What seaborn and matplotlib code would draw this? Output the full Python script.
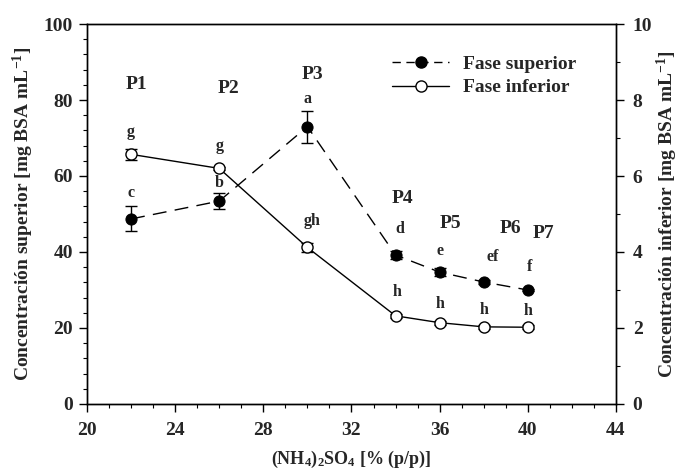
import matplotlib
matplotlib.use("Agg")
import matplotlib.pyplot as plt
import seaborn as sns
import pandas as pd
from matplotlib.ticker import MultipleLocator
from matplotlib.lines import Line2D

# ---- data ----
conc = [22, 26, 30, 34, 36, 38, 40]
sup = [48.7, 53.4, 73.0, 39.2, 34.7, 32.1, 30.0]
sup_err = [3.3, 2.0, 4.2, 1.0, 1.0, 0.5, 0.3]
inf = [6.57, 6.20, 4.12, 2.32, 2.14, 2.03, 2.02]
inf_err = [0.15, 0.05, 0.12, 0.05, 0.05, 0.05, 0.05]

sup_letters = ["c", "b", "a", "d", "e", "ef", "f"]
sup_letter_x = [22, 26, 30, 34.2, 36, 38.4, 40.1]
sup_letter_y = [55.6, 58.2, 80.2, 46.0, 40.3, 38.8, 36.1]

inf_letters = ["g", "g", "gh", "h", "h", "h", "h"]
inf_letter_x = [22, 26, 30.2, 34.05, 36, 38, 40]
inf_letter_y = [71.7, 68.0, 48.2, 29.5, 26.3, 24.7, 24.5]

p_labels = ["P1", "P2", "P3", "P4", "P5", "P6", "P7"]
p_x = [22.25, 26.4, 30.25, 34.3, 36.5, 39.2, 40.7]
p_y = [84.2, 82.9, 86.6, 54.2, 47.6, 46.3, 45.0]

df = pd.DataFrame({"conc": conc, "sup": sup, "inf": inf})

sns.set_style("ticks")
plt.rcParams["font.family"] = ["Liberation Serif", "DejaVu Serif"]
plt.rcParams["font.weight"] = "bold"
plt.rcParams["mathtext.fontset"] = "custom"
plt.rcParams["mathtext.rm"] = "Liberation Serif:bold"
plt.rcParams["mathtext.it"] = "Liberation Serif:bold"
plt.rcParams["mathtext.bf"] = "Liberation Serif:bold"
plt.rcParams["mathtext.default"] = "rm"

fig = plt.figure(figsize=(6.81, 4.70), dpi=100)
ax = fig.add_axes([87 / 681, 66 / 470, 529 / 681, 380 / 470])
ax2 = ax.twinx()

# superior (left axis)
sns.lineplot(data=df, x="conc", y="sup", ax=ax, color="black", lw=1.0,
             marker="o", markersize=8, markerfacecolor="black",
             markeredgecolor="black", zorder=3)
ax.lines[-1].set_dashes([10, 6])
ax.errorbar(conc, sup, yerr=sup_err, fmt="none", ecolor="black",
            elinewidth=1.0, capsize=4, capthick=1.0, zorder=2)

# inferior (right axis)
sns.lineplot(data=df, x="conc", y="inf", ax=ax2, color="black", lw=1.0,
             marker="o", markersize=8, markerfacecolor="white",
             markeredgecolor="black", markeredgewidth=1.0, zorder=3)
ax2.errorbar(conc, inf, yerr=inf_err, fmt="none", ecolor="black",
             elinewidth=1.0, capsize=4, capthick=1.0, zorder=2)

ax.set_xlim(20, 44)
ax.set_ylim(0, 100)
ax2.set_ylim(0, 10)

ax.xaxis.set_major_locator(MultipleLocator(4))
ax.xaxis.set_minor_locator(MultipleLocator(1))
ax.yaxis.set_major_locator(MultipleLocator(20))
ax.yaxis.set_minor_locator(MultipleLocator(4))
ax2.yaxis.set_major_locator(MultipleLocator(2))
ax2.yaxis.set_minor_locator(MultipleLocator(1))

for a in (ax, ax2):
    a.tick_params(which="major", direction="out", length=6, width=1.0,
                  labelsize=14, color="black")
    a.tick_params(which="minor", direction="out", length=3, width=0.8,
                  color="black")
    for s in a.spines.values():
        s.set_linewidth(1.0)
        s.set_color("black")
ax.tick_params(axis="x", pad=7)
ax.tick_params(axis="y", pad=4)
ax2.tick_params(axis="y", pad=6)

for lab in ax.get_xticklabels() + ax.get_yticklabels() + ax2.get_yticklabels():
    lab.set_fontweight("bold")

ax.set_xlabel("(NH$_4$)$_2$SO$_4$ [% (p/p)]", fontsize=13, fontweight="bold",
              labelpad=7)
ax.set_ylabel("Concentración superior [mg BSA mL$^{-1}$]", fontsize=14,
              fontweight="bold", labelpad=6)
ax2.set_ylabel("Concentración inferior [mg BSA mL$^{-1}$]", fontsize=14,
               fontweight="bold", labelpad=2)

for t, x, y in zip(sup_letters, sup_letter_x, sup_letter_y):
    ax.text(x, y, t, ha="center", va="center", fontsize=11.5, fontweight="bold")
for t, x, y in zip(inf_letters, inf_letter_x, inf_letter_y):
    ax.text(x, y, t, ha="center", va="center", fontsize=11.5, fontweight="bold")
for t, x, y in zip(p_labels, p_x, p_y):
    ax.text(x, y, t, ha="center", va="center", fontsize=14, fontweight="bold")

handles = [
    Line2D([], [], color="black", lw=1.0, dashes=[6, 4], marker="o",
           markersize=8, markerfacecolor="black"),
    Line2D([], [], color="black", lw=1.0, marker="o", markersize=8,
           markerfacecolor="white"),
]
ax.legend(handles, ["Fase superior", "Fase inferior"], loc="upper left",
          bbox_to_anchor=(0.559, 0.943), frameon=False,
          handlelength=2.9, handletextpad=0.75, labelspacing=0.3,
          borderpad=0, prop={"weight": "bold", "size": 14})

fig.savefig("out.png", dpi=100)
